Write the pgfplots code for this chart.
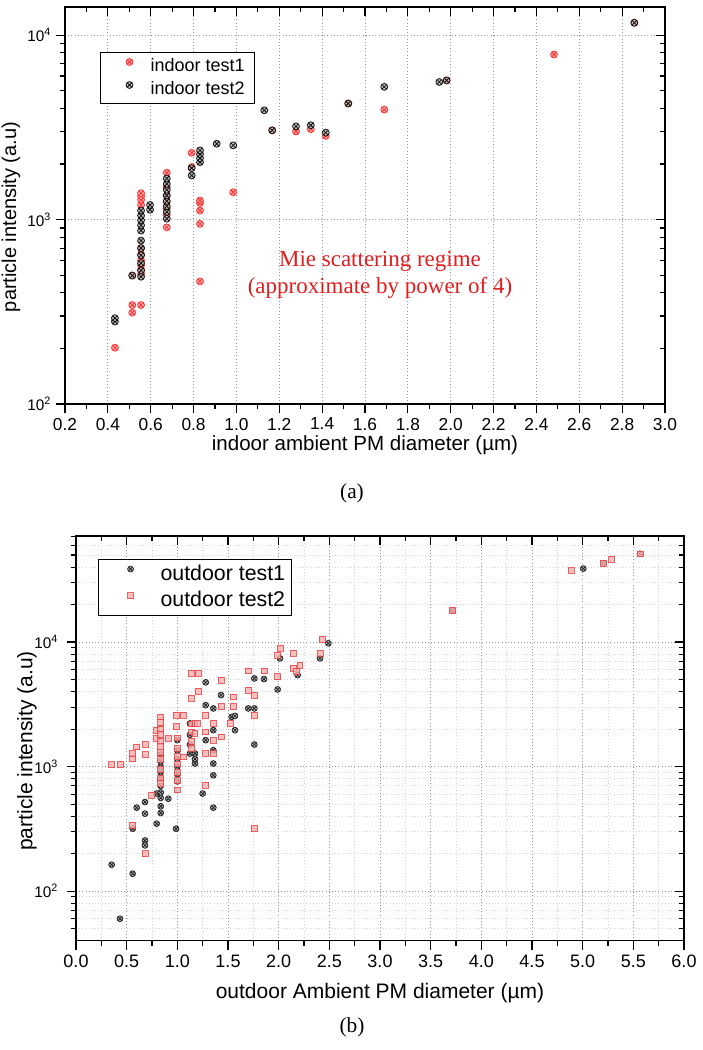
\documentclass[border=0pt]{standalone}
\usepackage{pgfplots}
\usepackage{pgfplotstable}
\pgfplotsset{compat=1.18}
\usepackage{fontspec}
\setmainfont{Liberation Sans}
\newfontfamily\timesfont{Liberation Serif}
\newcommand{\fs}[1]{\fontsize{#1pt}{#1pt}\selectfont}
\definecolor{mred}{RGB}{225,30,30}
\definecolor{mpink}{RGB}{248,175,175}

\pgfplotstableread{
x y
0.433 202
0.514 313
0.514 344
0.514 497
0.555 344
0.555 507
0.555 535
0.555 565
0.555 600
0.555 650
0.555 700
0.555 1200
0.555 1280
0.555 1340
0.555 1390
0.675 907
0.675 1060
0.675 1150
0.675 1250
0.675 1350
0.675 1500
0.675 1795
0.791 1925
0.791 2300
0.830 462
0.830 948
0.830 1119
0.830 1230
0.830 1268
0.985 1406
1.167 3045
1.278 3000
1.347 3090
1.417 2840
1.522 4256
1.690 3945
1.981 5680
2.482 7850
2.857 11660
}\indoorA

\pgfplotstableread{
x y
0.433 280
0.433 292
0.514 497
0.555 490
0.555 530
0.555 580
0.555 640
0.555 700
0.555 769
0.555 871
0.555 930
0.555 990
0.555 1050
0.555 1119
0.597 1130
0.597 1200
0.675 1011
0.675 1100
0.675 1180
0.675 1260
0.675 1350
0.675 1450
0.675 1560
0.675 1670
0.791 1734
0.791 1900
0.830 2046
0.830 2150
0.830 2260
0.830 2370
0.908 2576
0.985 2524
1.130 3910
1.167 3045
1.278 3200
1.347 3245
1.417 2960
1.522 4256
1.690 5240
1.947 5565
1.981 5680
2.857 11660
}\indoorB

\pgfplotstableread{
x y
0.352 163
0.434 60
0.559 138
0.560 317
0.599 468
0.681 519
0.681 419
0.681 255
0.681 233
0.796 348
0.796 607
0.836 424
0.836 480
0.836 560
0.836 620
0.836 700
0.836 800
0.836 900
0.836 1000
0.836 1100
0.836 1250
0.911 552
0.987 317
1.000 760
1.000 870
1.000 1000
1.000 1150
1.000 1350
1.000 1630
1.125 1273
1.125 1500
1.125 1800
1.125 2220
1.174 1057
1.174 1150
1.174 1273
1.250 607
1.280 4743
1.280 3110
1.280 1630
1.355 2930
1.355 1960
1.355 1352
1.355 1057
1.355 851
1.355 468
1.431 3750
1.536 2506
1.569 1960
1.569 2553
1.700 2930
1.760 5100
1.760 2930
1.760 1503
1.855 5040
1.990 4160
2.013 7390
2.187 5430
2.408 7390
2.490 9770
3.717 17870
5.006 38900
5.204 42960
5.566 51050
}\outdoorA

\pgfplotstableread{
x y
0.352 1037
0.434 1037
0.559 1159
0.559 1273
0.559 337
0.599 1440
0.681 1512
0.681 1248
0.681 200
0.747 587
0.796 1960
0.796 1680
0.836 2506
0.836 2250
0.836 2000
0.836 1800
0.836 1600
0.836 1450
0.836 1300
0.836 1150
0.836 950
0.836 800
0.836 729
0.911 1680
0.987 2590
0.987 2085
1.000 1700
1.000 1400
1.000 1200
1.000 1050
1.000 900
1.000 780
1.000 650
1.059 2590
1.059 1195
1.135 5600
1.207 5600
1.207 4037
1.135 3526
1.142 2200
1.142 1900
1.142 1600
1.142 1400
1.174 2230
1.194 2220
1.174 1853
1.280 2590
1.280 1898
1.280 1273
1.280 708
1.355 2220
1.355 1630
1.355 1273
1.431 4940
1.431 3020
1.431 1730
1.520 2220
1.553 3630
1.553 3020
1.700 5870
1.700 4110
1.760 3750
1.760 2590
1.760 317
1.855 5870
1.990 7850
1.990 5260
2.013 8900
2.145 8110
2.145 6140
2.178 5770
2.210 6530
2.408 8110
2.431 10570
3.717 17870
4.885 37500
5.204 42960
5.287 46240
5.566 51050
}\outdoorB

\begin{document}
\begin{tikzpicture}
\useasboundingbox (0,0) rectangle (527.25pt,-787.5pt);

% ---------------- (a) ----------------
\begin{axis}[
  scale only axis, ymode=log,
  axis line style={line width=1pt},
  every tick/.style={black, line width=0.8pt},
  major tick length=7pt, minor tick length=4pt,
  /pgf/number format/assume math mode=true,
  at={(48.75pt,-303pt)}, anchor=south west,
  width=450pt, height=297.75pt,
  xmin=0.2, xmax=3.0, ymin=100, ymax=14200,
  xtick={0.2,0.4,0.6,0.8,1.0,1.2,1.4,1.6,1.8,2.0,2.2,2.4,2.6,2.8,3.0},
  minor x tick num=1,
  ytick={100,1000,10000},
  yticklabels={10\textsuperscript{2},10\textsuperscript{3},10\textsuperscript{4}},
  minor ytick={200,300,400,500,600,700,800,900,2000,3000,4000,5000,6000,7000,8000,9000},
  tick align=outside, xtick pos=left, ytick pos=left,
  xticklabel style={font=\fs{13}, /pgf/number format/fixed, /pgf/number format/fixed zerofill, /pgf/number format/precision=1},
  yticklabel style={font=\fs{11.5}},
  grid=major, major grid style={dotted, gray!80, line width=0.7pt},
  xlabel={indoor ambient PM diameter (\textmu m)},
  ylabel={particle intensity (a.u)},
  xlabel style={font=\fs{15.4}, at={(axis description cs:0.5,-0.103)}, anchor=center},
  ylabel style={font=\fs{15}, at={(axis description cs:-0.09,0.471)}, anchor=center},
  legend style={at={(axis description cs:0.0583,0.887)}, anchor=north west,
    draw=black, line width=0.8pt, inner xsep=6.5pt, inner ysep=3.2pt,
    font=\fs{13.5}, row sep=2.25pt,
    nodes={inner sep=1pt, text height=10pt, text depth=3pt}},
  legend cell align=left,
  legend image code/.code={\path[draw=none] (0pt,0pt) -- (30pt,0pt); \draw[#1, only marks] plot coordinates {(15.25pt,3.5pt)};},
]
\addplot[only marks, mark=otimes*, mark size=2.6pt, mark options={fill=mpink, draw=red!80, line width=0.6pt}] table[x=x,y=y] {\indoorA};
\addlegendentry{indoor test1}
\addplot[only marks, mark=otimes*, mark size=2.6pt, mark options={fill=gray!55, draw=black, line width=0.6pt, fill opacity=0.85, draw opacity=0.9}] table[x=x,y=y] {\indoorB};
\addlegendentry{indoor test2}
\node[align=center, text=mred, font=\timesfont\fontsize{17.25pt}{20.25pt}\selectfont] at (axis description cs:0.525,0.325) {Mie scattering regime\\(approximate by power of 4)};
\end{axis}
\begin{axis}[
  scale only axis, ymode=log,
  axis line style={line width=1pt},
  every tick/.style={black, line width=0.8pt},
  major tick length=7pt, minor tick length=4pt,
  at={(48.75pt,-303pt)}, anchor=south west,
  width=450pt, height=297.75pt,
  xmin=0.2, xmax=3.0, ymin=100, ymax=14200,
  xtick={0.2,0.4,0.6,0.8,1.0,1.2,1.4,1.6,1.8,2.0,2.2,2.4,2.6,2.8,3.0},
  minor x tick num=1,
  ytick={100,1000,10000},
  minor ytick={200,300,400,500,600,700,800,900,2000,3000,4000,5000,6000,7000,8000,9000},
  xtick pos=right, ytick pos=right, tick align=inside,
  xticklabels={}, yticklabels={},
]
\addplot[draw=none] coordinates {(1,1000)};
\end{axis}
\node[font=\timesfont\fs{16}] at (264pt,-369.75pt) {(a)};

% ---------------- (b) ----------------
\begin{axis}[
  scale only axis, ymode=log,
  axis line style={line width=1pt},
  every tick/.style={black, line width=0.8pt},
  major tick length=7pt, minor tick length=4pt,
  /pgf/number format/assume math mode=true,
  at={(57pt,-705.5pt)}, anchor=south west,
  width=456pt, height=303.5pt,
  xmin=0, xmax=6.0, ymin=40, ymax=71000,
  xtick={0,0.5,1.0,1.5,2.0,2.5,3.0,3.5,4.0,4.5,5.0,5.5,6.0},
  minor x tick num=1,
  ytick={100,1000,10000},
  yticklabels={10\textsuperscript{2},10\textsuperscript{3},10\textsuperscript{4}},
  minor ytick={50,60,70,80,90,200,300,400,500,600,700,800,900,2000,3000,4000,5000,6000,7000,8000,9000,20000,30000,40000,50000,60000,70000},
  tick align=outside, xtick pos=left, ytick pos=left,
  xticklabel style={font=\fs{13.5}, /pgf/number format/fixed, /pgf/number format/fixed zerofill, /pgf/number format/precision=1},
  yticklabel style={font=\fs{11.5}, xshift=-3pt},
  grid=both, major grid style={dotted, gray!85, line width=0.7pt},
  minor grid style={dotted, gray!35, line width=0.6pt},
  xlabel={outdoor Ambient PM diameter (\textmu m)},
  ylabel={particle intensity (a.u)},
  xlabel style={font=\fs{15.75}, at={(axis description cs:0.5,-0.129)}, anchor=center},
  ylabel style={font=\fs{15.75}, at={(axis description cs:-0.0806,0.469)}, anchor=center},
  legend style={at={(axis description cs:0.0367,0.9425)}, anchor=north west,
    draw=black, line width=0.8pt, inner xsep=3.5pt, inner ysep=2.2pt,
    font=\fs{16}, row sep=2.5pt,
    nodes={inner sep=1pt, text height=12pt, text depth=3.5pt}},
  legend cell align=left,
  legend image code/.code={\path[draw=none] (0pt,0pt) -- (41.8pt,0pt); \draw[#1, only marks] plot coordinates {(20.3pt,4pt)};},
]
\addplot[only marks, mark=otimes*, mark size=2.2pt, mark options={fill=gray!55, draw=black!85, line width=0.6pt}] table[x=x,y=y] {\outdoorA};
\addlegendentry{outdoor test1}
\addplot[only marks, mark=square*, mark size=2.2pt, mark options={fill=mpink, draw=mred!85, line width=0.6pt, fill opacity=0.8, draw opacity=0.8}] table[x=x,y=y] {\outdoorB};
\addlegendentry{outdoor test2}
\end{axis}
\begin{axis}[
  scale only axis, ymode=log,
  axis line style={line width=1pt},
  every tick/.style={black, line width=0.8pt},
  major tick length=7pt, minor tick length=4pt,
  at={(57pt,-705.5pt)}, anchor=south west,
  width=456pt, height=303.5pt,
  xmin=0, xmax=6.0, ymin=40, ymax=71000,
  xtick={0,0.5,1.0,1.5,2.0,2.5,3.0,3.5,4.0,4.5,5.0,5.5,6.0},
  minor x tick num=1,
  ytick={100,1000,10000},
  minor ytick={50,60,70,80,90,200,300,400,500,600,700,800,900,2000,3000,4000,5000,6000,7000,8000,9000,20000,30000,40000,50000,60000,70000},
  xtick pos=right, ytick pos=right, tick align=inside,
  xticklabels={}, yticklabels={},
]
\addplot[draw=none] coordinates {(1,1000)};
\end{axis}
\node[font=\timesfont\fs{16}] at (264pt,-770.25pt) {(b)};
\end{tikzpicture}
\end{document}
